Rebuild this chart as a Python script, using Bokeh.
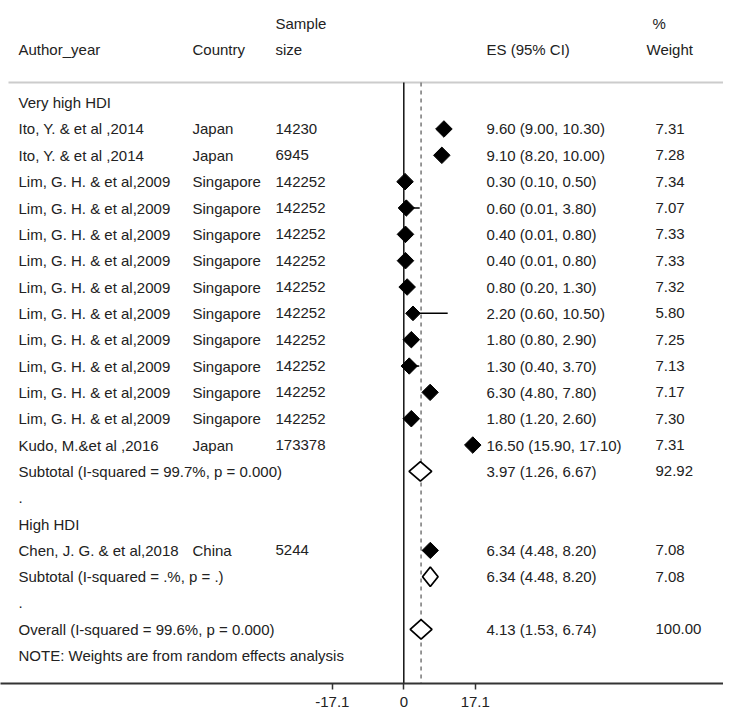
from bokeh.plotting import figure
from bokeh.models import ColumnDataSource, Range1d, FixedTicker
from bokeh.core.properties import value
from bokeh.embed import file_html
from bokeh.resources import INLINE
import math

# ---------------- data ----------------
authors = ["Ito, Y. & et al ,2014", "Ito, Y. & et al ,2014",
           "Lim, G. H. & et al,2009", "Lim, G. H. & et al,2009", "Lim, G. H. & et al,2009",
           "Lim, G. H. & et al,2009", "Lim, G. H. & et al,2009", "Lim, G. H. & et al,2009",
           "Lim, G. H. & et al,2009", "Lim, G. H. & et al,2009", "Lim, G. H. & et al,2009",
           "Lim, G. H. & et al,2009", "Kudo, M.&et al ,2016", "Chen, J. G. & et al,2018"]
countries = ["Japan", "Japan", "Singapore", "Singapore", "Singapore", "Singapore", "Singapore",
             "Singapore", "Singapore", "Singapore", "Singapore", "Singapore", "Japan", "China"]
sample_sizes = ["14230", "6945", "142252", "142252", "142252", "142252", "142252",
                "142252", "142252", "142252", "142252", "142252", "173378", "5244"]
es = [9.60, 9.10, 0.30, 0.60, 0.40, 0.40, 0.80, 2.20, 1.80, 1.30, 6.30, 1.80, 16.50, 6.34]
lo = [9.00, 8.20, 0.10, 0.01, 0.01, 0.01, 0.20, 0.60, 0.80, 0.40, 4.80, 1.20, 15.90, 4.48]
hi = [10.30, 10.00, 0.50, 3.80, 0.80, 0.80, 1.30, 10.50, 2.90, 3.70, 7.80, 2.60, 17.10, 8.20]
weights = [7.31, 7.28, 7.34, 7.07, 7.33, 7.33, 7.32, 5.80, 7.25, 7.13, 7.17, 7.30, 7.31, 7.08]
study_rows = [1, 2, 3, 4, 5, 6, 7, 8, 9, 10, 11, 12, 13, 17]

pooled_labels = ["Subtotal  (I-squared = 99.7%, p = 0.000)",
                 "Subtotal  (I-squared = .%, p = .)",
                 "Overall  (I-squared = 99.6%, p = 0.000)"]
pooled_es = [3.97, 6.34, 4.13]
pooled_lo = [1.26, 4.48, 1.53]
pooled_hi = [6.67, 8.20, 6.74]
pooled_w = ["92.92", "7.08", "100.00"]
pooled_rows = [14, 18, 20]

other_labels = ["Very high HDI", ".", "High HDI", ".", "NOTE: Weights are from random effects analysis"]
other_rows = [0, 15, 16, 19, 21]

tick_values = [-17.1, 0, 17.1]
tick_labels = ["-17.1", "0", "17.1"]

# ---------------- layout helpers ----------------
K = 4.18          # px per unit
X0 = 403.3        # page x of zero
ROW = 26.3        # px per row
Y0 = 102.0        # page y of row 0
def px(p):
    return (p - X0) / K

FONT = value("Liberation Sans")
FS = "15px"
TC = "#222222"

p = figure(width=723, height=709, output_backend="svg", toolbar_location=None,
           x_range=Range1d(px(0), px(723)),
           y_range=Range1d((682 - Y0) / ROW, (0 - Y0) / ROW),
           y_axis_location=None, min_border=0, outline_line_color=None)
p.grid.visible = False
p.background_fill_color = "white"

ax = p.xaxis[0]
ax.ticker = FixedTicker(ticks=tick_values)
ax.major_label_overrides = {t: l for t, l in zip(tick_values, tick_labels)}
ax.minor_tick_line_color = None
ax.axis_line_width = 2
ax.axis_line_color = "#333333"
ax.major_tick_line_color = "#333333"
ax.major_tick_line_width = 1.5
ax.major_tick_in = 0
ax.major_tick_out = 6
ax.major_label_standoff = 7
ax.major_label_text_font = "Liberation Sans"
ax.major_label_text_font_size = FS
ax.major_label_text_color = TC

line_row = (82 - Y0) / ROW
axis_row = (682 - Y0) / ROW

# header separator
p.segment(x0=[px(8)], x1=[px(723)], y0=[line_row], y1=[line_row], line_color="#cccccc", line_width=2)

# null line and overall dashed line
p.segment(x0=[0], x1=[0], y0=[line_row], y1=[axis_row], line_color="#111111", line_width=1.5)
p.segment(x0=[pooled_es[2]], x1=[pooled_es[2]], y0=[line_row], y1=[axis_row],
          line_color="#777777", line_width=1.5, line_dash="4 4")

# header text
hdr_x = [px(18), px(192), px(275), px(275), px(486), px(652), px(646)]
hdr_y = [-2, -2, -3, -2, -2, -3, -2]
hdr_t = ["Author_year", "Country", "Sample", "size", "ES (95% CI)", "%", "Weight"]
p.text(x=hdr_x, y=hdr_y, text=hdr_t, text_font=FONT, text_font_size=FS,
       text_color=TC, text_baseline="middle", text_align="left")

# study rows
src = ColumnDataSource(dict(
    y=study_rows, es=es, lo=lo, hi=hi,
    author=authors, country=countries, n=sample_sizes,
    est=[f"{e:.2f} ({l:.2f}, {h:.2f})" for e, l, h in zip(es, lo, hi)],
    w=[f"{w:.2f}" for w in weights],
    size=[11.7 * math.sqrt(w / 7.31) for w in weights],
    xa=[px(18)] * len(es), xc=[px(192)] * len(es), xn=[px(275)] * len(es),
    xe=[px(486)] * len(es), xw=[px(655)] * len(es),
))
p.segment(x0="lo", x1="hi", y0="y", y1="y", source=src, line_color="black", line_width=1.5)
p.scatter(x="es", y="y", size="size", marker="square", angle=math.pi / 4,
          source=src, fill_color="black", line_color="black")
for col, xc in [("author", "xa"), ("country", "xc"), ("n", "xn"), ("est", "xe"), ("w", "xw")]:
    p.text(x=xc, y="y", text=col, source=src, text_font=FONT, text_font_size=FS,
           text_color=TC, text_baseline="middle", text_align="left")

# pooled rows
h = 0.37
psrc = ColumnDataSource(dict(
    y=pooled_rows, label=pooled_labels,
    est=[f"{e:.2f} ({l:.2f}, {u:.2f})" for e, l, u in zip(pooled_es, pooled_lo, pooled_hi)],
    w=pooled_w,
    xa=[px(18)] * 3, xe=[px(486)] * 3, xw=[px(655)] * 3,
))
p.patches(xs=[[l, e, u, e] for e, l, u in zip(pooled_es, pooled_lo, pooled_hi)],
          ys=[[r, r - h, r, r + h] for r in pooled_rows],
          fill_color="white", line_color="black", line_width=1.8)
for col, xc in [("label", "xa"), ("est", "xe"), ("w", "xw")]:
    p.text(x=xc, y="y", text=col, source=psrc, text_font=FONT, text_font_size=FS,
           text_color=TC, text_baseline="middle", text_align="left")

# group labels / notes
p.text(x=[px(18)] * len(other_labels), y=other_rows, text=other_labels, text_font=FONT,
       text_font_size=FS, text_color=TC, text_baseline="middle", text_align="left")

open("out.html", "w").write(file_html(p, INLINE))
